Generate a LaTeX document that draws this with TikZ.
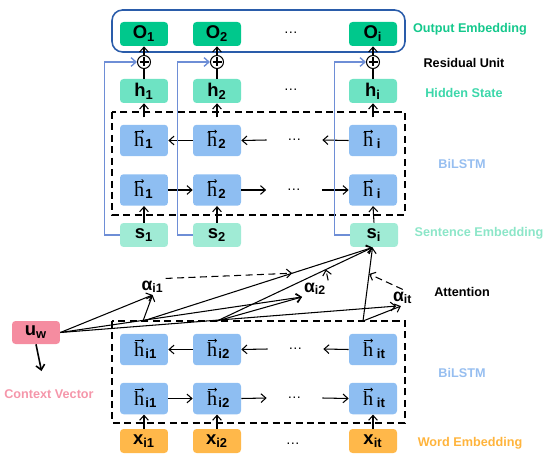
\documentclass[tikz,border=0pt]{standalone}
\usepackage{fontspec}
\setmainfont{Liberation Sans}
\newfontfamily\serifh{Liberation Serif}
\usetikzlibrary{arrows.meta,calc}
\definecolor{ogreen}{HTML}{00C88C}
\definecolor{hgreen}{HTML}{6EE3C3}
\definecolor{sgreen}{HTML}{A0EBD5}
\definecolor{lstm}{HTML}{8EBEF2}
\definecolor{xorange}{HTML}{FFB84A}
\definecolor{upink}{HTML}{F58CA0}
\definecolor{frameblue}{HTML}{2A5CAA}
\definecolor{resblue}{HTML}{6E8ED6}
\definecolor{txtout}{HTML}{14C88C}
\definecolor{txthid}{HTML}{3CD7AA}
\definecolor{txtsen}{HTML}{8CE6C8}
\definecolor{txtlstm}{HTML}{96BEF0}
\definecolor{txtword}{HTML}{FFB43C}
\definecolor{txtctx}{HTML}{F596AA}
% LSTM cell: name, x, y, arrow direction (-> or <-), subscript, gap
\newcommand{\lstmcell}[6]{%
  \node[lbox] (#1) at (#2,#3) {};
  \node[hletter, anchor=base east] (#1h) at ($(#1.center)+(0.5,6.5)$) {h};
  \node[hsub, anchor=base west] (#1s) at ($(#1h.base east)+(#6,2)$) {#5};
  \draw[#4, harr] ([xshift=0.6pt,yshift=0.6pt]#1h.north west) -- ([xshift=-0.3pt,yshift=0.6pt]#1h.north east);
}
\begin{document}
\begin{tikzpicture}[x=0.02cm,y=-0.02cm,
  every node/.style={font=\bfseries\fontsize{10.5}{12}\selectfont},
  box/.style={rounded corners=2pt, minimum width=0.96cm, minimum height=0.48cm, inner sep=0pt},
  obox/.style={box, fill=ogreen},
  hbox/.style={box, fill=hgreen},
  sbox/.style={box, fill=sgreen},
  xbox/.style={box, fill=xorange},
  ubox/.style={box, fill=upink, minimum height=0.46cm},
  lbox/.style={box, fill=lstm, minimum height=0.63cm},
  hletter/.style={inner sep=0pt, font=\serifh\mdseries\fontsize{11.5}{12}\selectfont},
  hsub/.style={inner sep=0pt, font=\bfseries\fontsize{7.5}{8}\selectfont},
  harr/.style={line width=0.4pt, arrows={-Straight Barb[length=1pt,width=2pt]}},
  arr/.style={-{Straight Barb[length=2.8pt,width=5pt]}, line width=0.6pt},
  darr/.style={arr, dash pattern=on 4pt off 2.5pt},
  dbox/.style={dash pattern=on 4pt off 2.5pt, line width=0.9pt},
  res/.style={draw=resblue, line width=0.8pt, -{Straight Barb[length=2.8pt,width=5pt]}},
  lab/.style={font=\bfseries\fontsize{7.2}{8}\selectfont},
  dotlab/.style={font=\mdseries\fontsize{8}{9}\selectfont, inner sep=0pt, minimum width=1.1cm},
  alab/.style={inner sep=1pt, anchor=base west, font=\bfseries\fontsize{10}{11}\selectfont},
  plus/.style={circle, draw, line width=0.6pt, minimum size=0.26cm, inner sep=0pt}
]
\useasboundingbox (0,0) rectangle (550,462);

% ---------- output layer ----------
\draw[draw=frameblue, line width=0.9pt, rounded corners=6pt] (112,10) rectangle (405,52);
\node[obox] (O1) at (144,34) {O\textsubscript{1}};
\node[obox] (O2) at (217,34) {O\textsubscript{2}};
\node[dotlab] (Od) at (291,33) {\dots};
\node[obox] (Oi) at (373,34) {O\textsubscript{i}};

% ---------- residual plus ----------
\foreach \n/\x in {p1/144,p2/217,pi/373}{
  \node[plus] (\n) at (\x,62) {};
  \draw[line width=0.7pt] ($(\n.center)+(0,-4.5)$) -- ($(\n.center)+(0,4.5)$)
                          ($(\n.center)+(-4.5,0)$) -- ($(\n.center)+(4.5,0)$);
}

% ---------- hidden state ----------
\node[hbox] (h1) at (144,91) {h\textsubscript{1}};
\node[hbox] (h2) at (217,91) {h\textsubscript{2}};
\node[dotlab] (hd) at (291,90) {\dots};
\node[hbox] (hi) at (373,91) {h\textsubscript{i}};

% ---------- sentence BiLSTM ----------
\draw[dbox] (112,112) rectangle (405,215);
\lstmcell{bh1}{144}{140.5}{<-}{1}{0.5}
\lstmcell{bh2}{217}{140.5}{<-}{2}{0.5}
\node[dotlab] (bd) at (294.5,140) {\dots};
\lstmcell{bhi}{373}{140.5}{<-}{i}{3}
\lstmcell{fh1}{144}{190}{->}{1}{0.5}
\lstmcell{fh2}{217}{190}{->}{2}{0.5}
\node[dotlab] (fd) at (294,190) {\dots};
\lstmcell{fhi}{373}{190}{->}{i}{3}

\draw[arr] (bh2.west) -- (bh1.east);
\draw[arr] (bd.west) -- (bh2.east);
\draw[arr] (bhi.west) -- (bd.east);
\draw[arr] (fh1.east) -- (fh2.west);
\draw[arr] (fh2.east) -- (fd.west);
\draw[arr] (fd.east) -- (fhi.west);

% ---------- sentence embedding ----------
\node[sbox] (s1) at (144,235) {s\textsubscript{1}};
\node[sbox] (s2) at (217,235) {s\textsubscript{2}};
\node[sbox] (si) at (374,235) {s\textsubscript{i}};

\foreach \s/\f/\h/\p/\o in {s1/fh1/h1/p1/O1, s2/fh2/h2/p2/O2, si/fhi/hi/pi/Oi}{
  \draw[arr] (\s.north) -- (\f.south);
  \draw[arr] ($(\h.south)+(0,14)$) -- (\h.south);
  \draw[line width=0.6pt] (\h.north) -- (\p.south);
  \draw[arr] (\p.north) -- (\o.south);
  \draw[res] (\s.west) -- ++(-15,0) |- (\p.west);
}

% ---------- word BiLSTM ----------
\draw[dbox] (112,321) rectangle (405,423);
\lstmcell{wb1}{144}{349.5}{<-}{i1}{0.5}
\lstmcell{wb2}{217}{349.5}{<-}{i2}{0.5}
\node[dotlab] (wbd) at (295.5,349) {\dots};
\lstmcell{wbi}{373}{349.5}{<-}{it}{3}
\lstmcell{wf1}{144}{398.5}{->}{i1}{0.5}
\lstmcell{wf2}{217}{398.5}{->}{i2}{0.5}
\node[dotlab] (wfd) at (294.5,398) {\dots};
\lstmcell{wfi}{373}{398.5}{->}{it}{3}

\draw[arr] (wb2.west) -- (wb1.east);
\draw[arr] (wbd.west) -- (wb2.east);
\draw[arr] (wbi.west) -- (wbd.east);
\draw[arr] (wf1.east) -- (wf2.west);
\draw[arr] (wf2.east) -- (wfd.west);
\draw[arr] (wfd.east) -- (wfi.west);

% ---------- word embedding ----------
\node[xbox] (x1) at (144,441) {x\textsubscript{i1}};
\node[xbox] (x2) at (217,441) {x\textsubscript{i2}};
\node[dotlab] (xd) at (293,444) {\dots};
\node[xbox] (xi) at (373,441) {x\textsubscript{it}};
\draw[arr] (x1.north) -- (wf1.south);
\draw[arr] (x2.north) -- (wf2.south);
\draw[arr] (xi.north) -- (wfi.south);

% ---------- context vector ----------
\node[ubox] (uw) at (36,332.5) {u\textsubscript{w}};
\coordinate (cvtip) at (41.5,371);
\draw[arr, line width=0.9pt] (uw.south) -- (cvtip);
\node[lab, text=txtctx] (cv) at (49,394) {Context Vector};

% ---------- attention ----------
\node[alab] (a1) at (139.5,290) {α\textsubscript{i1}};
\node[alab] (a2) at (302,292) {α\textsubscript{i2}};
\node[alab] (ait) at (391,301) {α\textsubscript{it}};
\coordinate (c1) at (143,321);
\coordinate (c2) at (217,321);
\coordinate (c3) at (363,321);
\coordinate (sin) at (372.5,247.5);

\draw[arr] (uw.east) -- (a1.south);
\draw[arr] (uw.east) -- (a2.south west);
\draw[arr] (uw.east) -- ([xshift=3]ait.south west);
\draw[arr] (c1) -- (a1.south);
\draw[arr] (c2) -- (a2.south west);
\draw[arr] (c3) -- ([xshift=-1]ait.south);
\draw[arr] (c1) -- (sin);
\draw[arr] (c2) -- (sin);
\draw[arr] (c3) -- (sin);
\draw[darr] (a1.north east) -- ($(c1)!0.65!(sin)$);
\draw[darr] (a2.north east) -- ($(c2)!0.70!(sin)$);
\draw[darr] (ait.north) -- ($(c3)!0.64!(sin)$);

% ---------- right-hand labels ----------
\node[lab, text=txtout] (l1) at (470,29) {Output Embedding};
\node[lab] (l2) at (464,63) {Residual Unit};
\node[lab, text=txthid] (l3) at (464,93) {Hidden State};
\node[lab, text=txtlstm] (l4) at (462,164) {BiLSTM};
\node[lab, text=txtsen] (l5) at (479,233) {Sentence Embedding};
\node[lab] (l6) at (462,292) {Attention};
\node[lab, text=txtlstm] (l7) at (462,373) {BiLSTM};
\node[lab, text=txtword] (l8) at (470,443) {Word Embedding};
\end{tikzpicture}
\end{document}
